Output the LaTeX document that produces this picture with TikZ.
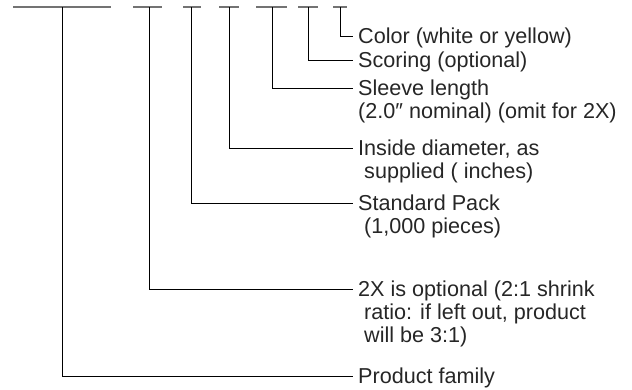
\documentclass[tikz,border=0pt]{standalone}
\usepackage{fontspec}
\setmainfont{Liberation Sans}
\usetikzlibrary{positioning}
\begin{document}
\begin{tikzpicture}[x=1pt,y=-1pt,
 bar/.style={draw=black!55, line width=1.8pt},
 leg/.style={draw=black, line width=0.9pt},
 lbl/.style={anchor=west, inner xsep=5pt, inner ysep=0.35pt, text height=18pt, text depth=4pt, text=black!85, font=\fontsize{21.6}{23}\selectfont},
 more/.style={lbl, below right=0pt and 0pt of #1}]
 \useasboundingbox (0,0) rectangle (632,389);
 % code fields
 \foreach \a/\b in {13/111, 133/162, 183/201, 219/239, 256/287, 298/318, 333/347}
   \draw[bar] (\a,7) -- (\b,7);
 \coordinate (fam) at (62,7);
 \coordinate (twox) at (149,7);
 \coordinate (pack) at (191,7);
 \coordinate (dia) at (229,7);
 \coordinate (len) at (272,7);
 \coordinate (score) at (308,7);
 \coordinate (col) at (340,7);
 % labels
 \node[lbl] (coltxt) at (353,36) {Color (white or yellow)};
 \node[lbl] (scoretxt) at (353,60) {Scoring (optional)};
 \node[lbl] (lentxt) at (353,88) {Sleeve length};
 \node[more=lentxt.south west] (lentxt2) {(2.0″ nominal) (omit for 2X)};
 \node[lbl] (diatxt) at (353,148) {Inside diameter, as};
 \node[more=diatxt.south west] (diatxt2) {\ supplied ( inches)};
 \node[lbl] (packtxt) at (353,203) {Standard Pack};
 \node[more=packtxt.south west] (packtxt2) {\ (1,000 pieces)};
 \node[lbl] (twoxtxt) at (353,289) {2X is optional (2:1 shrink};
 \node[more=twoxtxt.south west] (twoxtxt2) {\ ratio: if left out, product};
 \node[more=twoxtxt2.south west] (twoxtxt3) {\ will be 3:1)};
 \node[lbl] (famtxt) at (353,376) {Product family};
 % legs
 \draw[leg] (col) |- (coltxt.west);
 \draw[leg] (score) |- (scoretxt.west);
 \draw[leg] (len) |- (lentxt.west);
 \draw[leg] (dia) |- (diatxt.west);
 \draw[leg] (pack) |- (packtxt.west);
 \draw[leg] (twox) |- (twoxtxt.west);
 \draw[leg] (fam) |- (famtxt.west);
\end{tikzpicture}
\end{document}
